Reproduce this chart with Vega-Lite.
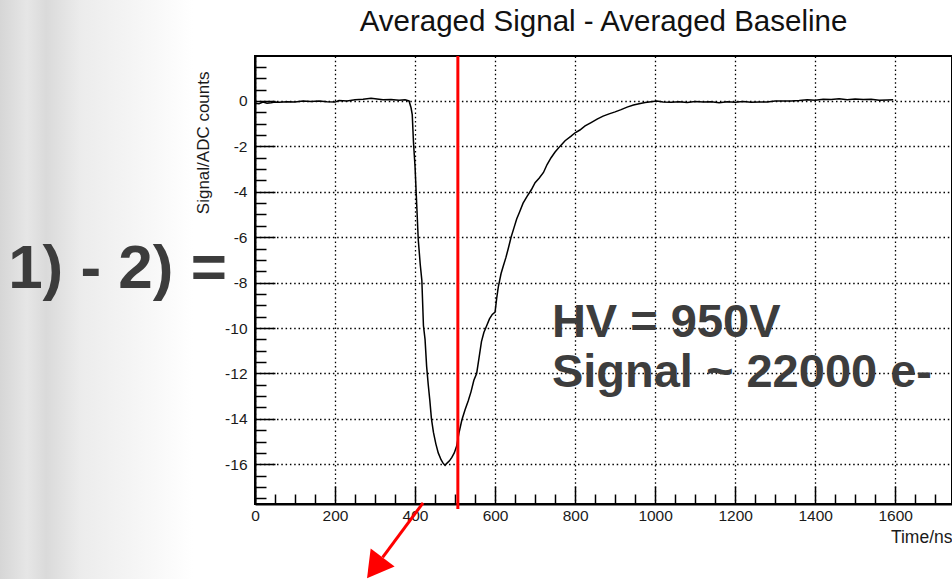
{
  "$schema": "https://vega.github.io/schema/vega-lite/v6.json",
  "width": 697,
  "height": 448,
  "autosize": "none",
  "padding": {"left": 255, "top": 56, "right": 0, "bottom": 75},
  "background": "white",
  "config": {
    "view": {"stroke": "black", "strokeWidth": 2},
    "font": "Liberation Sans"
  },
  "title": {
    "text": "Averaged Signal - Averaged Baseline",
    "font": "Liberation Sans",
    "fontSize": 29.5,
    "fontWeight": "normal",
    "color": "#111111",
    "anchor": "middle",
    "baseline": "alphabetic",
    "offset": -36,
    "dy": 25
  },
  "datasets": {
    "trace": [
      {"t": 0, "v": -0.1}, {"t": 10, "v": -0.12}, {"t": 20, "v": -0.05}, {"t": 30, "v": -0.1},
      {"t": 40, "v": -0.08}, {"t": 50, "v": -0.05}, {"t": 60, "v": -0.06}, {"t": 80, "v": -0.03},
      {"t": 100, "v": -0.05}, {"t": 120, "v": 0.0}, {"t": 140, "v": -0.02}, {"t": 160, "v": 0.0},
      {"t": 180, "v": -0.04}, {"t": 200, "v": -0.05}, {"t": 210, "v": 0.02}, {"t": 230, "v": 0.0},
      {"t": 250, "v": 0.05}, {"t": 270, "v": 0.08}, {"t": 290, "v": 0.12}, {"t": 300, "v": 0.1},
      {"t": 320, "v": 0.05}, {"t": 340, "v": 0.06}, {"t": 360, "v": 0.03}, {"t": 375, "v": 0.05},
      {"t": 385, "v": 0.0}, {"t": 390, "v": -0.3}, {"t": 393, "v": -0.6}, {"t": 396, "v": -1.8},
      {"t": 400, "v": -2.9}, {"t": 403, "v": -4.1}, {"t": 408, "v": -6.1}, {"t": 413, "v": -7.2},
      {"t": 417, "v": -7.9}, {"t": 421, "v": -9.9}, {"t": 425, "v": -10.5}, {"t": 429, "v": -11.7},
      {"t": 433, "v": -12.5}, {"t": 437, "v": -13.2}, {"t": 441, "v": -14.0}, {"t": 446, "v": -14.6},
      {"t": 452, "v": -15.1}, {"t": 458, "v": -15.5}, {"t": 465, "v": -15.8}, {"t": 470, "v": -15.95},
      {"t": 475, "v": -16.05}, {"t": 480, "v": -15.95}, {"t": 486, "v": -15.85}, {"t": 492, "v": -15.7},
      {"t": 498, "v": -15.5}, {"t": 504, "v": -15.2}, {"t": 510, "v": -14.6}, {"t": 517, "v": -14.05},
      {"t": 525, "v": -13.6}, {"t": 533, "v": -13.2}, {"t": 540, "v": -12.8}, {"t": 547, "v": -12.3},
      {"t": 554, "v": -12.0}, {"t": 560, "v": -11.3}, {"t": 566, "v": -10.6}, {"t": 572, "v": -10.2},
      {"t": 579, "v": -9.9}, {"t": 586, "v": -9.6}, {"t": 593, "v": -9.4}, {"t": 600, "v": -9.3},
      {"t": 604, "v": -8.7}, {"t": 608, "v": -8.2}, {"t": 615, "v": -7.6}, {"t": 620, "v": -7.3},
      {"t": 627, "v": -6.9}, {"t": 633, "v": -6.5}, {"t": 640, "v": -6.0}, {"t": 647, "v": -5.6},
      {"t": 654, "v": -5.2}, {"t": 661, "v": -4.9}, {"t": 670, "v": -4.5}, {"t": 680, "v": -4.2},
      {"t": 691, "v": -3.9}, {"t": 700, "v": -3.6}, {"t": 710, "v": -3.4}, {"t": 721, "v": -3.15},
      {"t": 730, "v": -2.8}, {"t": 740, "v": -2.5}, {"t": 750, "v": -2.25}, {"t": 762, "v": -2.0},
      {"t": 775, "v": -1.75}, {"t": 790, "v": -1.55}, {"t": 800, "v": -1.4}, {"t": 812, "v": -1.28},
      {"t": 825, "v": -1.1}, {"t": 840, "v": -0.95}, {"t": 855, "v": -0.8}, {"t": 870, "v": -0.67},
      {"t": 885, "v": -0.57}, {"t": 900, "v": -0.48}, {"t": 915, "v": -0.38}, {"t": 930, "v": -0.27},
      {"t": 946, "v": -0.18}, {"t": 960, "v": -0.12}, {"t": 975, "v": -0.07}, {"t": 990, "v": -0.03},
      {"t": 1004, "v": 0.0}, {"t": 1020, "v": -0.05}, {"t": 1040, "v": -0.06}, {"t": 1060, "v": -0.03},
      {"t": 1080, "v": -0.07}, {"t": 1100, "v": -0.02}, {"t": 1120, "v": -0.05}, {"t": 1140, "v": -0.04},
      {"t": 1160, "v": -0.08}, {"t": 1180, "v": -0.03}, {"t": 1200, "v": -0.06}, {"t": 1220, "v": -0.02},
      {"t": 1240, "v": -0.06}, {"t": 1260, "v": -0.05}, {"t": 1280, "v": -0.05}, {"t": 1300, "v": 0.0},
      {"t": 1320, "v": 0.0}, {"t": 1340, "v": 0.0}, {"t": 1360, "v": 0.02}, {"t": 1380, "v": 0.05},
      {"t": 1400, "v": 0.03}, {"t": 1420, "v": 0.08}, {"t": 1440, "v": 0.06}, {"t": 1460, "v": 0.1},
      {"t": 1480, "v": 0.05}, {"t": 1500, "v": 0.09}, {"t": 1520, "v": 0.06}, {"t": 1540, "v": 0.08},
      {"t": 1560, "v": 0.03}, {"t": 1580, "v": 0.04}, {"t": 1595, "v": 0.05}
    ],
    "marker": [{"t": 507, "top": 1.98, "bottom": -17.97}],
    "arrow": [{"t": 420, "v": -17.7}, {"t": 319, "v": -20.1}],
    "head": [{"t": 299.5, "v": -20.56}],
    "notes": [
      {"id": "eq", "t": -617, "v": -8.24, "text": "1) - 2) ="},
      {"id": "hv", "t": 742, "v": -10.4, "text": "HV = 950V"},
      {"id": "hv", "t": 742, "v": -12.6, "text": "Signal ~ 22000 e-"}
    ]
  },
  "layer": [
    {
      "data": {"values": [{}]},
      "mark": {
        "type": "rect", "clip": false,
        "color": {
          "gradient": "linear", "x1": 0, "x2": 1, "y1": 0, "y2": 0,
          "stops": [
            {"offset": 0, "color": "#d6d6d6"},
            {"offset": 0.14, "color": "#e6e6e6"},
            {"offset": 0.24, "color": "#dadada"},
            {"offset": 0.42, "color": "#ececec"},
            {"offset": 0.7, "color": "#f5f5f5"},
            {"offset": 1, "color": "#ffffff"}
          ]
        }
      },
      "encoding": {
        "x": {"datum": -637.5, "type": "quantitative"},
        "x2": {"datum": -155},
        "y": {"datum": 4.45, "type": "quantitative"},
        "y2": {"datum": -21.06}
      }
    },
    {
      "data": {"name": "trace"},
      "mark": {"type": "line", "color": "black", "strokeWidth": 1.5, "interpolate": "linear"},
      "encoding": {
        "x": {
          "field": "t", "type": "quantitative",
          "scale": {"domain": [0, 1742], "nice": false, "zero": false},
          "axis": {
            "title": "Time/ns",
            "titleFont": "Liberation Sans", "titleFontSize": 17.5, "titleFontWeight": "normal",
            "titleColor": "#1a1a1a", "titleAnchor": "end", "titleAlign": "right", "titlePadding": -3,
            "tickCount": 200,
            "values": [0,50,100,150,200,250,300,350,400,450,500,550,600,650,700,750,800,850,900,950,1000,1050,1100,1150,1200,1250,1300,1350,1400,1450,1500,1550,1600,1650,1700],
            "labelExpr": "datum.value % 200 === 0 ? toString(datum.value) : ''",
            "labelFont": "Liberation Sans", "labelFontSize": 15.5, "labelColor": "#1a1a1a",
            "labelOverlap": false, "labelFlush": false, "labelPadding": 22,
            "tickSize": {"condition": {"test": "datum.value % 200 === 0", "value": -18}, "value": -10},
            "tickColor": "black", "tickWidth": 1.5,
            "domainColor": "black", "domainWidth": 2,
            "grid": true, "gridColor": "black", "gridDash": [1.5, 2.8], "gridWidth": 1.3,
            "gridOpacity": {"condition": {"test": "datum.value % 200 === 0", "value": 1}, "value": 0}
          }
        },
        "y": {
          "field": "v", "type": "quantitative",
          "scale": {"domain": [-17.75, 1.98], "nice": false, "zero": false},
          "axis": {
            "title": "Signal/ADC counts",
            "titleFont": "Liberation Sans", "titleFontSize": 17, "titleFontWeight": "normal",
            "titleColor": "#1a1a1a", "titleY": 15, "titleAlign": "right", "titlePadding": 12,
            "tickCount": 200,
            "values": [-17.5,-17,-16.5,-16,-15.5,-15,-14.5,-14,-13.5,-13,-12.5,-12,-11.5,-11,-10.5,-10,-9.5,-9,-8.5,-8,-7.5,-7,-6.5,-6,-5.5,-5,-4.5,-4,-3.5,-3,-2.5,-2,-1.5,-1,-0.5,0,0.5,1,1.5],
            "labelExpr": "(abs(datum.value) % 2) < 0.01 ? toString(datum.value) : ''",
            "labelFont": "Liberation Sans", "labelFontSize": 15.5, "labelColor": "#1a1a1a",
            "labelOverlap": false, "labelFlush": false, "labelPadding": 28,
            "tickSize": {"condition": {"test": "(abs(datum.value) % 2) < 0.01", "value": -20}, "value": -11},
            "tickColor": "black", "tickWidth": 1.5,
            "domainColor": "black", "domainWidth": 2,
            "grid": true, "gridColor": "black", "gridDash": [1.5, 2.8], "gridWidth": 1.3,
            "gridOpacity": {"condition": {"test": "(abs(datum.value) % 2) < 0.01", "value": 1}, "value": 0}
          }
        }
      }
    },
    {
      "data": {"name": "marker"},
      "mark": {"type": "rule", "color": "#ff0000", "strokeWidth": 3},
      "encoding": {
        "x": {"field": "t", "type": "quantitative"},
        "y": {"field": "top", "type": "quantitative"},
        "y2": {"field": "bottom"}
      }
    },
    {
      "data": {"name": "arrow"},
      "mark": {"type": "line", "color": "#ff0000", "strokeWidth": 3, "clip": false},
      "encoding": {
        "x": {"field": "t", "type": "quantitative"},
        "y": {"field": "v", "type": "quantitative"}
      }
    },
    {
      "data": {"name": "head"},
      "mark": {"type": "point", "shape": "triangle-down", "filled": true, "color": "#ff0000", "size": 900, "angle": 37, "opacity": 1, "clip": false},
      "encoding": {
        "x": {"field": "t", "type": "quantitative"},
        "y": {"field": "v", "type": "quantitative"}
      }
    },
    {
      "data": {"name": "notes"},
      "transform": [{"filter": "datum.id === 'eq'"}],
      "mark": {"type": "text", "font": "Liberation Sans", "fontWeight": "bold", "fontSize": 62, "color": "#3c3c3c", "align": "left", "baseline": "alphabetic", "clip": false},
      "encoding": {
        "x": {"field": "t", "type": "quantitative"},
        "y": {"field": "v", "type": "quantitative"},
        "text": {"field": "text"}
      }
    },
    {
      "data": {"name": "notes"},
      "transform": [{"filter": "datum.id === 'hv'"}],
      "mark": {"type": "text", "font": "Liberation Sans", "fontWeight": "bold", "fontSize": 47, "color": "#3d3d3d", "align": "left", "baseline": "alphabetic", "clip": false},
      "encoding": {
        "x": {"field": "t", "type": "quantitative"},
        "y": {"field": "v", "type": "quantitative"},
        "text": {"field": "text"}
      }
    }
  ]
}
